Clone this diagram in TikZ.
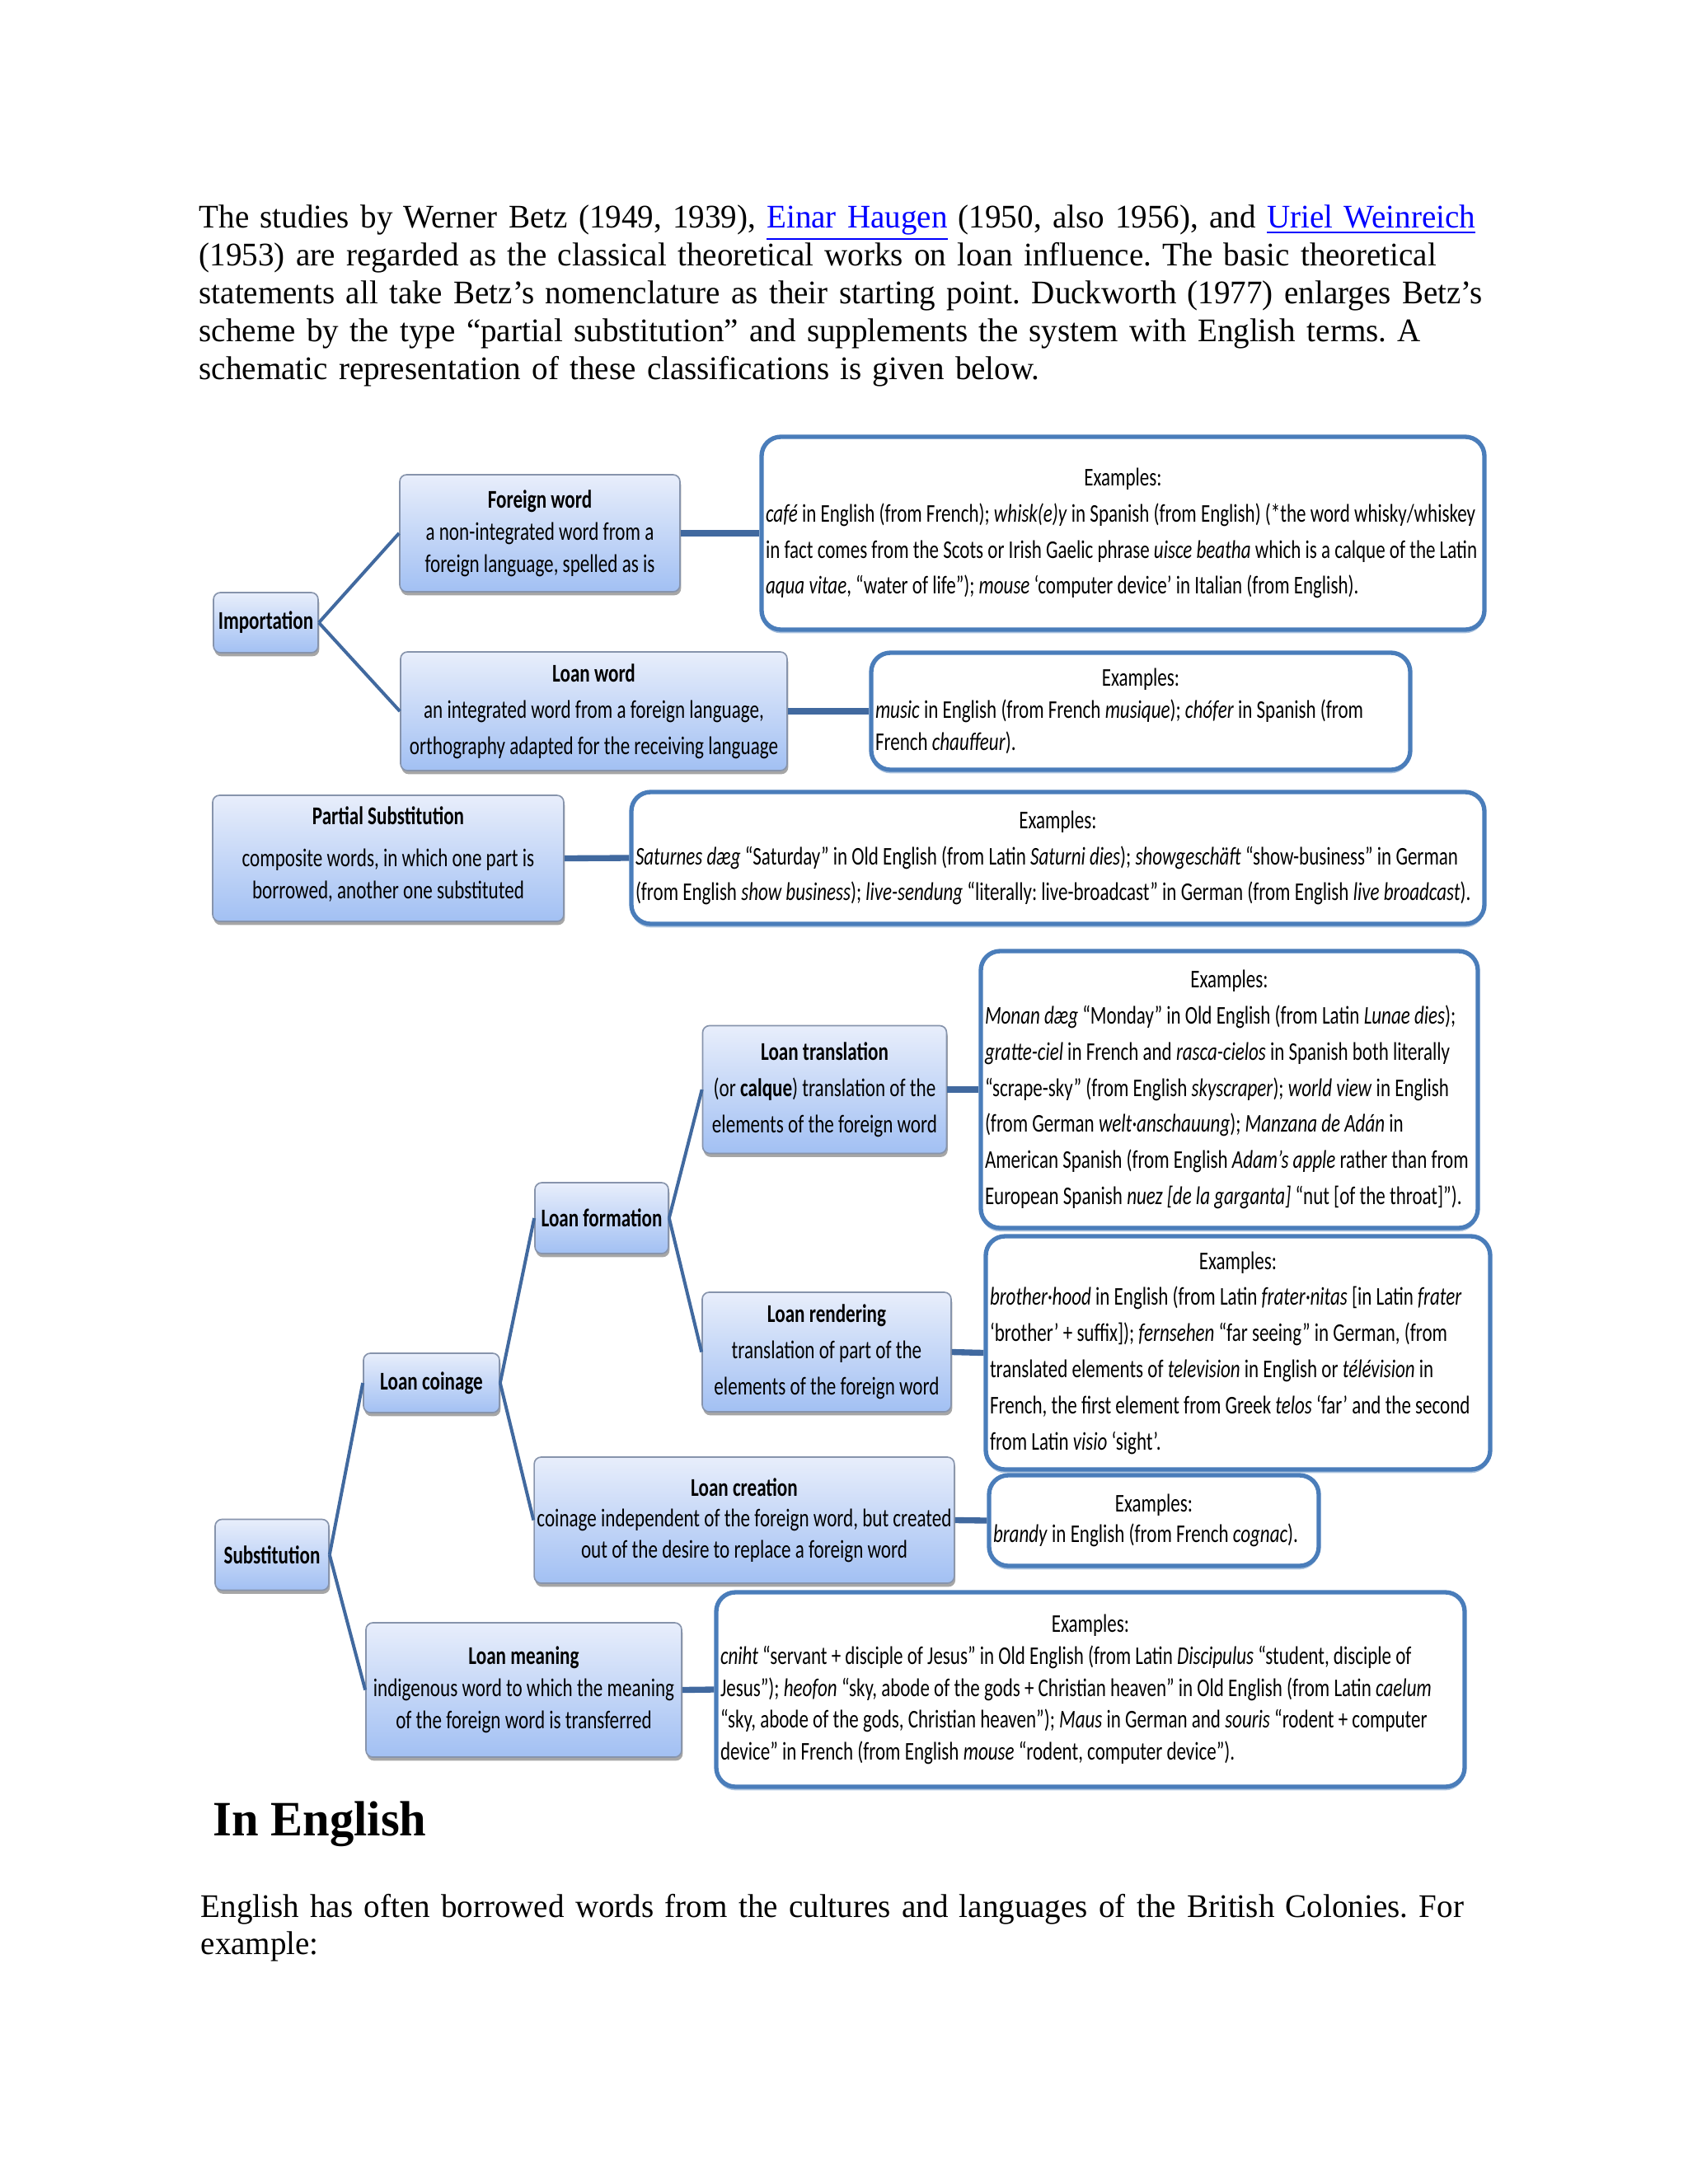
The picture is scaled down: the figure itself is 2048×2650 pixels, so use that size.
\documentclass[tikz,border=0pt]{standalone}
\usepackage{fontspec}
\setmainfont{Liberation Serif}[FakeStretch=0.976]
\newfontfamily\diag[FakeStretch=0.745]{Carlito}
\newfontfamily\diagex[FakeStretch=0.742]{Carlito}
\usetikzlibrary{shadows}
\setlength{\parindent}{0pt}
\frenchspacing
\newlength{\pxlen}
\setlength{\pxlen}{0.010542cm}
\definecolor{linkblue}{RGB}{0,0,255}
\definecolor{conceptlight}{HTML}{E8EEFB}
\definecolor{conceptdark}{HTML}{A2C0F3}
\definecolor{conceptedge}{HTML}{8794AC}
\definecolor{treeline}{HTML}{41699F}
\definecolor{exedge}{HTML}{4A7DBA}
\newcommand{\weblink}[1]{\textcolor{linkblue}{\underline{#1}}}
\newcommand{\exhead}[1]{\makebox[#1\pxlen]{Examples:}}
\tikzset{
  concept/.style={draw=conceptedge, line width=0.5pt, rounded corners=2.5pt,
    top color=conceptlight, bottom color=conceptdark,
    drop shadow={shadow xshift=0.4pt, shadow yshift=-1.3pt, fill=black, opacity=0.35},
    align=center, inner sep=1pt},
  exbox/.style={draw=exedge, line width=1.6pt, rounded corners=7pt, fill=white,
    drop shadow={shadow xshift=0pt, shadow yshift=-1.3pt, fill=exedge!45, opacity=1},
    align=left, inner ysep=2pt, inner xsep=5*\pxlen},
  boxsize/.style 2 args={minimum width=#1*\pxlen, minimum height=#2*\pxlen},
  widespace/.style={font=\diag\fontsize{9.3}{13.15}\selectfont},
  narrowspace/.style={font=\diag\fontsize{9.3}{11.65}\selectfont},
  exwide/.style={font=\diagex\fontsize{9.3}{13.15}\selectfont},
  exnarrow/.style={font=\diagex\fontsize{9.3}{11.65}\selectfont},
  treebranch/.style={draw=treeline, line width=1.2pt},
  exlink/.style={draw=treeline, line width=2.2pt},
}
\begin{document}
\begin{tikzpicture}[x=\pxlen, y=-\pxlen]
\useasboundingbox (0,0) rectangle (2048,2650);

\node (intro) at (241,248.3)[anchor=north west, inner sep=0pt, text width=6.7in, align=left,
  font=\fontsize{12}{13.75}\selectfont]{The studies by Werner Betz (1949, 1939), \weblink{Einar Haugen} (1950, also 1956), and \weblink{Uriel Weinreich}\\
(1953) are regarded as the classical theoretical works on loan influence. The basic theoretical\\
statements all take Betz’s nomenclature as their starting point. Duckworth (1977) enlarges Betz’s\\
scheme by the type “partial substitution” and supplements the system with English terms. A\\
schematic representation of these classifications is given below.};

\node (imp) at (322.5,755.5)[concept, widespace, boxsize={127}{73}]{\textbf{Importation}};
\node (fw) at (655,647)[concept, narrowspace, boxsize={340}{142}]{\textbf{Foreign word}\\a non-integrated word from a\\foreign language, spelled as is};
\node (lw) at (720.5,863)[concept, widespace, boxsize={469}{144}]{\textbf{Loan word}\\an integrated word from a foreign language,\\orthography adapted for the receiving language};
\node (exfw) at (1362.5,647)[exbox, exwide, boxsize={877}{234}]{\exhead{867}\\
\textit{café} in English (from French); \textit{whisk(e)y} in Spanish (from English) (*the word whisky/whiskey\\
in fact comes from the Scots or Irish Gaelic phrase \textit{uisce beatha} which is a calque of the Latin\\
\textit{aqua vitae}, “water of life”); \textit{mouse} ‘computer device’ in Italian (from English).};
\node (exlw) at (1384,863)[exbox, exnarrow, boxsize={654}{142}]{\exhead{644}\\
\textit{music} in English (from French \textit{musique}); \textit{chófer} in Spanish (from\\
French \textit{chauffeur}).};

\node (ps) at (471,1041.5)[concept, narrowspace, boxsize={426}{153}]{\textbf{Partial Substitution}\\[3.6pt]composite words, in which one part is\\borrowed, another one substituted\\[-7.6pt]};
\node (exps) at (1283.5,1041)[exbox, exwide, boxsize={1035}{160}]{\exhead{1025}\\
\textit{Saturnes dæg} “Saturday” in Old English (from Latin \textit{Saturni dies}); \textit{showgeschäft} “show-business” in German\\
(from English \textit{show business}); \textit{live-sendung} “literally: live-broadcast” in German (from English \textit{live broadcast}).};

\node (sub) at (330,1886.5)[concept, widespace, boxsize={138}{86}]{\textbf{Substitution}};
\node (lco) at (523.5,1678)[concept, widespace, boxsize={165}{72}]{\textbf{Loan coinage}};
\node (lf) at (730,1478)[concept, widespace, boxsize={162}{86}]{\textbf{Loan formation}};
\node (lt) at (1000.5,1322)[concept, widespace, boxsize={296}{155}]{\textbf{Loan translation}\\(or \textbf{calque}) translation of the\\elements of the foreign word};
\node (exlt) at (1491.5,1322)[exbox, exwide, boxsize={603}{336}]{\exhead{593}\\
\textit{Monan dæg} “Monday” in Old English (from Latin \textit{Lunae dies});\\
\textit{gratte-ciel} in French and \textit{rasca-cielos} in Spanish both literally\\
“scrape-sky” (from English \textit{skyscraper}); \textit{world view} in English\\
(from German \textit{welt·anschauung}); \textit{Manzana de Adán} in\\
American Spanish (from English \textit{Adam’s apple} rather than from\\
European Spanish \textit{nuez [de la garganta]} “nut [of the throat]”).};
\node (lr) at (1003,1640.5)[concept, widespace, boxsize={302}{145}]{\textbf{Loan rendering}\\translation of part of the\\elements of the foreign word};
\node (exlr) at (1502,1641.5)[exbox, exwide, boxsize={612}{283}]{\exhead{602}\\
\textit{brother·hood} in English (from Latin \textit{frater·nitas} [in Latin \textit{frater}\\
‘brother’ + suffix]); \textit{fernsehen} “far seeing” in German, (from\\
translated elements of \textit{television} in English or \textit{télévision} in\\
French, the first element from Greek \textit{telos} ‘far’ and the second\\
from Latin \textit{visio} ‘sight’.};
\node (lcr) at (903,1844.5)[concept, font=\diag\fontsize{9.3}{11.2}\selectfont, boxsize={508}{153}]{\textbf{Loan creation}\\coinage independent of the foreign word, but created\\out of the desire to replace a foreign word};
\node (exlc) at (1400,1845)[exbox, font=\diagex\fontsize{9.3}{11.2}\selectfont, boxsize={400}{110}]{\exhead{390}\\
\textit{brandy} in English (from French \textit{cognac}).};
\node (lm) at (635.5,2050.5)[concept, narrowspace, boxsize={383}{163}]{\textbf{Loan meaning}\\indigenous word to which the meaning\\of the foreign word is transferred};
\node (exlm) at (1323,2050)[exbox, exnarrow, boxsize={908}{236}]{\exhead{898}\\
\textit{cniht} “servant + disciple of Jesus” in Old English (from Latin \textit{Discipulus} “student, disciple of\\
Jesus”); \textit{heofon} “sky, abode of the gods + Christian heaven” in Old English (from Latin \textit{caelum}\\
“sky, abode of the gods, Christian heaven”); \textit{Maus} in German and \textit{souris} “rodent + computer\\
device” in French (from English \textit{mouse} “rodent, computer device”).};

\draw[treebranch] (imp.east) -- (fw.west);
\draw[treebranch] (imp.east) -- (lw.west);
\draw[treebranch] (sub.east) -- (lco.west);
\draw[treebranch] (sub.east) -- (lm.west);
\draw[treebranch] (lco.east) -- (lf.west);
\draw[treebranch] (lco.east) -- (lcr.west);
\draw[treebranch] (lf.east) -- (lt.west);
\draw[treebranch] (lf.east) -- (lr.west);
\draw[exlink] (fw.east) -- (exfw.west);
\draw[exlink] (lw.east) -- (exlw.west);
\draw[exlink] (ps.east) -- (exps.west);
\draw[exlink] (lt.east) -- (exlt.west);
\draw[exlink] (lr.east) -- (exlr.west);
\draw[exlink] (lcr.east) -- (exlc.west);
\draw[exlink] (lm.east) -- (exlm.west);

\node (head) at (258,2227)[anchor=base west, inner sep=0pt, font=\fontsize{18}{20}\selectfont\bfseries]{In English};
\node (outro) at (243,2297.3)[anchor=north west, inner sep=0pt, text width=6.7in, align=left,
  font=\fontsize{12}{13.75}\selectfont]{English has often borrowed words from the cultures and languages of the British Colonies. For\\
example:};
\end{tikzpicture}
\end{document}
